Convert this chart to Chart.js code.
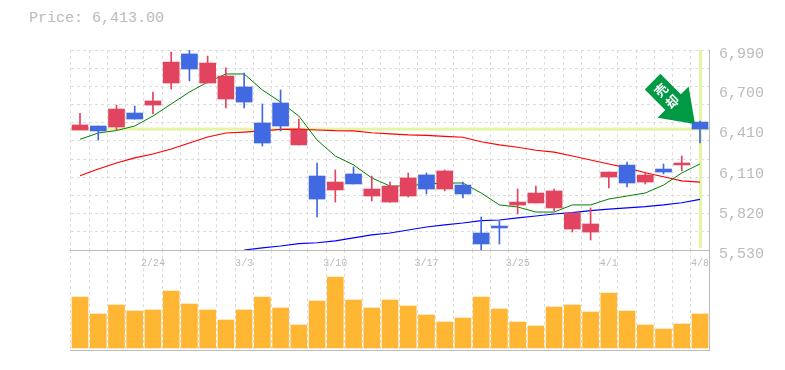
<!DOCTYPE html>
<html>
<head>
<meta charset="utf-8">
<title>Price chart</title>
<script src="https://cdn.jsdelivr.net/npm/chart.js@4"></script>
<style>
    html, body { margin: 0; background: #fff; overflow: hidden; }
    canvas { position: absolute; left: 0; top: 0; }
    #priceTitle {
        position: absolute; left: 29px; top: 10px;
        font: 15px "Liberation Mono", monospace; color: #bbb;
    }
</style>
</head>
<body>
<div id="priceTitle">Price: 6,413.00</div>
<canvas id="volumeChart" width="785" height="370"></canvas>
<canvas id="priceChart" width="785" height="370"></canvas>
<script>
// Categories
const dates = ['2/18', '2/19', '2/20', '2/21', '2/24', '2/25', '2/26', '2/27', '2/28', '3/3', '3/4', '3/5',
    '3/6', '3/7', '3/10', '3/11', '3/12', '3/13', '3/14', '3/17', '3/18', '3/19', '3/21', '3/24', '3/25',
    '3/26', '3/27', '3/28', '3/31', '4/1', '4/2', '4/3', '4/4', '4/7', '4/8'];
const dateTicks = ['2/24', '3/3', '3/10', '3/17', '3/25', '4/1', '4/8'];
const priceTicks = [6990, 6700, 6410, 6110, 5820, 5530];

// Candles
const opens = [6406, 6435, 6428, 6530, 6588, 6749, 6961, 6749, 6632, 6720, 6457, 6603, 6297, 6070, 5968, 6085, 5924, 5880,
    5924, 6078, 5975, 6004, 5654, 5705, 5858, 5873, 5837, 5683, 5661, 6063, 6150, 6026, 6121, 6151, 6464];
const highs = [6528, 6435, 6588, 6581, 6683, 6975, 6990, 6946, 6859, 6822, 6596, 6698, 6486, 6165, 6114, 6136, 6070, 6026,
    6092, 6092, 6114, 6026, 5771, 5742, 5975, 5997, 5975, 5800, 5837, 6099, 6172, 6099, 6158, 6216, 6472];
const lows = [6406, 6333, 6406, 6486, 6523, 6705, 6764, 6749, 6567, 6567, 6289, 6399, 6297, 5771, 5880, 6012, 5888, 5880,
    5917, 5939, 5961, 5910, 5530, 5574, 5793, 5873, 5815, 5661, 5603, 5983, 5990, 6012, 6085, 6107, 6311];
const closes = [6443, 6399, 6559, 6486, 6618, 6902, 6851, 6895, 6800, 6610, 6311, 6435, 6406, 5902, 6026, 6012, 5975, 5997,
    6056, 5975, 6107, 5939, 5574, 5691, 5880, 5946, 5961, 5800, 5720, 6099, 6019, 6077, 6099, 6165, 6413];

// Moving averages
const maShort = [6338, 6384, 6402, 6435, 6508, 6596, 6683, 6756, 6815, 6815, 6698, 6610, 6508, 6333, 6216, 6151, 6056, 5997,
    5997, 6012, 6019, 6019, 5946, 5859, 5844, 5807, 5807, 5859, 5859, 5902, 5924, 5946, 6004, 6092, 6158];
const maMiddle = [6072, 6121, 6165, 6202, 6231, 6267, 6311, 6355, 6384, 6391, 6399, 6410, 6413, 6406, 6401, 6399, 6386, 6377,
    6370, 6367, 6360, 6353, 6320, 6297, 6280, 6258, 6245, 6216, 6187, 6158, 6129, 6094, 6065, 6034, 6026];
const maLong = [null, null, null, null, null, null, null, null, null, 5530, 5545, 5559, 5576, 5583, 5596, 5618, 5640, 5654,
    5676, 5698, 5713, 5727, 5744, 5749, 5764, 5778, 5793, 5803, 5817, 5829, 5837, 5846, 5859, 5875, 5900];

// Volume
const volumes = [51, 34, 43, 37, 38, 57, 44, 38, 28, 38, 51, 40, 23, 47, 71, 48, 40, 48,
    42, 33, 26, 30, 51, 39, 26, 22, 41, 43, 36, 55, 37, 23, 19, 24, 34];

const lastPrice = 6413;
const arrowLabel = ['売', '却'];

const GRID = '#ddd';
const AXIS = '#bbb';
const UP = '#e2445f';
const DOWN = '#4169e1';
const CROSS = '#e4f5a6';
const PLOT_LEFT = 70.9;
const AXIS_WIDTH = 75.9;

const candleColors = closes.map((close, i) => close >= opens[i] ? UP : DOWN);

// Highlight for the latest price and date, under the candles
const crosshair = {
    id: 'crosshair',
    beforeDatasetsDraw(chart) {
        const { ctx, chartArea, scales } = chart;
        const y = scales.y.getPixelForValue(lastPrice);
        const x = scales.x.getPixelForValue(dates.length - 1);
        ctx.save();
        ctx.fillStyle = CROSS;
        ctx.fillRect(chartArea.left, y - 1.5, chartArea.width, 3);
        ctx.fillRect(x - 1, chartArea.top, 3, chartArea.height - 2);
        ctx.restore();
    }
};

// Green arrow pointing at the last candle
const arrowMark = {
    id: 'arrowMark',
    afterDatasetsDraw(chart) {
        const { ctx, scales } = chart;
        const tipX = scales.x.getPixelForValue(dates.length - 1) - 5;
        const tipY = scales.y.getPixelForValue(lastPrice) - 5;
        ctx.save();
        ctx.translate(tipX, tipY);
        ctx.rotate(-Math.PI / 4);
        ctx.fillStyle = '#009944';
        ctx.beginPath();
        ctx.moveTo(0, 0);
        ctx.lineTo(-22, -31);
        ctx.lineTo(-11, -31);
        ctx.lineTo(-11, -60);
        ctx.lineTo(11, -60);
        ctx.lineTo(11, -31);
        ctx.lineTo(22, -31);
        ctx.closePath();
        ctx.fill();
        // label runs down the shaft, one glyph under the other
        ctx.fillStyle = '#fff';
        ctx.font = 'bold 13px "Noto Sans CJK JP"';
        ctx.textAlign = 'center';
        ctx.textBaseline = 'middle';
        ctx.fillText(arrowLabel[0], 0, -48);
        ctx.fillText(arrowLabel[1], 0, -32);
        ctx.restore();
    }
};

new Chart(document.getElementById('priceChart'), {
    data: {
        labels: dates,
        datasets: [
            { type: 'bar', data: opens.map((open, i) => [open, closes[i]]), backgroundColor: candleColors, barThickness: 16, order: 1 },
            { type: 'bar', data: lows.map((low, i) => [low, highs[i]]), backgroundColor: candleColors, barThickness: 1, order: 2 },
            { type: 'line', data: maShort, borderColor: '#008000', borderWidth: 1, pointRadius: 0, tension: 0, order: 3 },
            { type: 'line', data: maMiddle, borderColor: '#ff0000', borderWidth: 1.2, pointRadius: 0, tension: 0, order: 3 },
            { type: 'line', data: maLong, borderColor: '#0000ff', borderWidth: 1.2, pointRadius: 0, tension: 0, order: 3 }
        ]
    },
    options: {
        responsive: false,
        animation: false,
        layout: { padding: { left: PLOT_LEFT, top: 50 } },
        plugins: { legend: { display: false }, tooltip: { enabled: false } },
        datasets: { bar: { grouped: false } },
        scales: {
            x: {
                grid: { color: GRID, offset: true, drawTicks: false },
                border: { color: AXIS, dash: [3, 3] },
                ticks: {
                    autoSkip: false, maxRotation: 0, padding: 7, color: AXIS,
                    font: { family: 'Liberation Mono', size: 10 },
                    callback(value) {
                        const label = this.getLabelForValue(value);
                        return dateTicks.includes(label) ? label : '';
                    }
                },
                afterFit(scale) { scale.height = 120; }
            },
            y: {
                position: 'right',
                min: 5530,
                max: 6990,
                grid: { display: false, drawTicks: false },
                border: { display: true, color: AXIS },
                afterBuildTicks(scale) { scale.ticks = priceTicks.map(value => ({ value })); },
                ticks: {
                    padding: 10, color: AXIS,
                    font: { family: 'Liberation Mono', size: 15, lineHeight: 0.5 },
                    // blank first line pushes the label a few pixels under its tick
                    callback: value => ['', value.toLocaleString('en-US')]
                },
                afterFit(scale) { scale.width = AXIS_WIDTH; }
            },
            yGrid: {
                position: 'left',
                min: 0,
                max: 11,
                grid: { color: GRID, drawTicks: false },
                border: { display: false, dash: [3, 3] },
                ticks: { display: false, stepSize: 1 },
                afterFit(scale) { scale.width = 0; }
            }
        }
    },
    plugins: [crosshair, arrowMark]
});

new Chart(document.getElementById('volumeChart'), {
    data: {
        labels: dates,
        datasets: [{ type: 'bar', data: volumes, backgroundColor: '#ffb733', barThickness: 16 }]
    },
    options: {
        responsive: false,
        animation: false,
        layout: { padding: { left: PLOT_LEFT, top: 250, bottom: 20 } },
        plugins: { legend: { display: false }, tooltip: { enabled: false } },
        scales: {
            x: {
                grid: { color: GRID, offset: true, drawTicks: false },
                border: { color: AXIS, dash: [3, 3] },
                ticks: { display: false },
                afterFit(scale) { scale.height = 0; }
            },
            y: {
                position: 'right',
                min: -2,
                max: 98,
                grid: { display: false },
                border: { display: true, color: AXIS },
                ticks: { display: false },
                afterFit(scale) { scale.width = AXIS_WIDTH; }
            }
        }
    }
});
</script>
</body>
</html>
